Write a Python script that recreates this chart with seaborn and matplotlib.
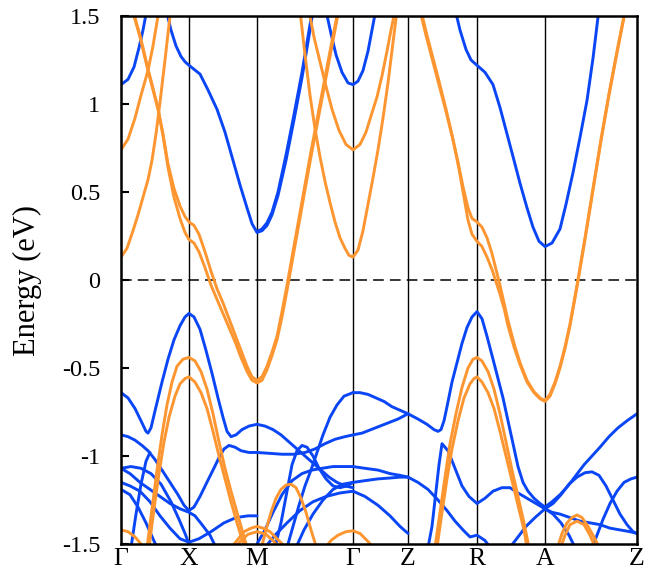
import pandas as pd
import matplotlib
matplotlib.use("Agg")
import matplotlib.pyplot as plt
import seaborn as sns

# k-path distance (arbitrary units) of the high-symmetry points
kpoints = [0, 68, 136, 232, 287, 356, 424, 516]
klabels = ["Γ", "X", "M", "Γ", "Z", "R", "A", "Z"]
yticks = [-1.5, -1, -0.5, 0, 0.5, 1, 1.5]
ylabels = ["-1.5", "-1", "-0.5", "0", "0.5", "1", "1.5"]

# ---------------- spin up (blue) : (k, E) ----------------
up_c1 = [(0, 1.11), (7, 1.14), (13, 1.21), (18, 1.32), (22, 1.42), (26, 1.54)]
up_c2 = [(45, 1.54), (50, 1.42), (55, 1.33), (60, 1.27), (64, 1.24), (68, 1.22), (79, 1.17), (87, 1.08),
         (96, 0.97), (104, 0.84), (112, 0.68), (119, 0.54), (126, 0.41), (131, 0.32), (136, 0.27),
         (141, 0.28), (146, 0.31), (151, 0.37), (157, 0.48), (165, 0.68), (173, 0.91), (181, 1.15),
         (189, 1.42), (192, 1.53)]
up_c2b = [(136, 0.275), (141, 0.29), (146, 0.325), (151, 0.385), (157, 0.50), (165, 0.71), (173, 0.94),
          (181, 1.18), (189, 1.45), (192, 1.54)]
up_c3 = [(205, 1.53), (210, 1.40), (215, 1.28), (221, 1.18), (227, 1.12), (232, 1.11), (237, 1.13),
         (242, 1.19), (247, 1.30), (251, 1.42), (255, 1.54)]
up_c4 = [(334, 1.54), (339, 1.42), (345, 1.31), (350, 1.25), (356, 1.22), (364, 1.18), (372, 1.11),
         (379, 0.98), (386, 0.83), (393, 0.68), (399, 0.55), (406, 0.41), (412, 0.30), (418, 0.22),
         (424, 0.19), (431, 0.21), (439, 0.29), (445, 0.43), (452, 0.61), (459, 0.81), (466, 1.02),
         (472, 1.26), (478, 1.54)]

up_v1 = [(0, -0.64), (7, -0.67), (14, -0.73), (20, -0.80), (25, -0.86), (27, -0.87), (30, -0.84),
         (35, -0.72), (41, -0.58), (47, -0.45), (53, -0.34), (59, -0.26), (64, -0.21), (68, -0.19),
         (73, -0.21), (79, -0.28), (85, -0.40), (91, -0.53), (97, -0.67), (102, -0.78), (106, -0.86),
         (110, -0.89), (115, -0.88), (121, -0.85), (128, -0.83), (136, -0.82), (144, -0.83),
         (152, -0.85), (160, -0.88), (168, -0.92), (176, -0.96), (184, -1.00), (192, -1.04),
         (200, -1.08), (208, -1.12), (216, -1.15), (224, -1.17), (232, -1.18)]
up_v1b = [(232, -0.64), (239, -0.64), (247, -0.65), (255, -0.67), (263, -0.69), (271, -0.72),
          (279, -0.74), (287, -0.76), (297, -0.79), (306, -0.82), (313, -0.85), (317, -0.86),
          (320, -0.85), (323, -0.80), (326, -0.72), (331, -0.58), (336, -0.47), (341, -0.36),
          (346, -0.27), (351, -0.21), (356, -0.18), (361, -0.22), (366, -0.32), (372, -0.45),
          (377, -0.56), (382, -0.67), (387, -0.80), (392, -0.93), (397, -1.06), (402, -1.15),
          (407, -1.20), (413, -1.24), (419, -1.27), (424, -1.29), (431, -1.26), (439, -1.22),
          (447, -1.17), (455, -1.11), (463, -1.05), (471, -1.00), (479, -0.95), (488, -0.89),
          (497, -0.84), (506, -0.80), (516, -0.76)]
up_v2 = [(0, -0.88), (7, -0.89), (14, -0.91), (21, -0.94), (27, -0.97), (34, -1.02), (41, -1.08),
         (49, -1.15), (57, -1.22), (63, -1.28), (68, -1.31), (73, -1.29), (79, -1.23), (85, -1.16),
         (92, -1.08), (98, -1.01), (103, -0.96), (108, -0.94), (114, -0.95), (120, -0.97),
         (128, -0.98), (136, -0.98), (149, -0.985), (161, -0.99), (173, -0.99), (184, -0.98),
         (194, -0.96), (204, -0.93), (214, -0.905), (224, -0.89), (232, -0.88), (241, -0.87),
         (250, -0.85), (259, -0.83), (268, -0.81), (277, -0.79), (287, -0.76)]
up_s1 = [(10, -1.52), (15, -1.33), (20, -1.16), (25, -1.03), (29, -0.98)]
up_s2 = [(0, -1.07), (10, -1.06), (20, -1.07), (30, -1.10), (40, -1.16), (50, -1.26), (58, -1.36),
         (64, -1.44), (68, -1.50)]
up_v12 = [(0, -1.07), (9, -1.10), (19, -1.15), (29, -1.19), (39, -1.23), (49, -1.27), (59, -1.30),
          (68, -1.32), (74, -1.34), (81, -1.39), (89, -1.45), (95, -1.52)]
up_v13 = [(0, -1.15), (9, -1.17), (19, -1.20), (29, -1.26), (39, -1.34), (49, -1.41), (59, -1.47),
          (68, -1.49), (78, -1.47), (90, -1.43), (103, -1.38), (115, -1.35), (127, -1.34), (136, -1.34)]
up_v14 = [(0, -1.19), (9, -1.22), (17, -1.29), (25, -1.38), (32, -1.47), (36, -1.52)]
up_v8 = [(136, -1.50), (144, -1.42), (152, -1.32), (161, -1.22), (171, -1.14), (181, -1.10),
         (191, -1.08), (201, -1.07), (212, -1.06), (222, -1.06), (232, -1.06)]
up_v9 = [(154, -1.52), (160, -1.38), (166, -1.20), (171, -1.05), (176, -0.97), (181, -0.94),
         (186, -0.95), (192, -1.00), (198, -1.07), (205, -1.13), (212, -1.17), (219, -1.18),
         (226, -1.17), (232, -1.15)]
up_v10 = [(144, -1.52), (154, -1.45), (166, -1.38), (179, -1.31), (192, -1.26), (205, -1.23),
          (219, -1.21), (232, -1.20)]
up_s4 = [(166, -1.52), (172, -1.40), (178, -1.28), (184, -1.17), (190, -1.08), (196, -0.98),
         (202, -0.88), (209, -0.78), (216, -0.71), (223, -0.66), (232, -0.64)]
up_s5 = [(175, -1.52), (183, -1.42), (192, -1.33), (202, -1.25), (212, -1.19), (222, -1.16), (232, -1.15)]
up_g1 = [(232, -1.06), (244, -1.07), (257, -1.08), (269, -1.10), (279, -1.11), (287, -1.12)]
up_g2 = [(232, -1.15), (244, -1.14), (257, -1.13), (269, -1.125), (279, -1.12), (287, -1.12)]
up_g3 = [(232, -1.20), (244, -1.23), (257, -1.28), (269, -1.34), (279, -1.40), (287, -1.44)]
up_v7 = [(287, -1.12), (297, -1.15), (307, -1.19), (317, -1.25), (326, -1.31), (334, -1.37),
         (342, -1.42), (349, -1.46), (356, -1.45), (364, -1.48), (369, -1.52)]
up_v3 = [(307, -1.52), (311, -1.40), (315, -1.20), (318, -1.05), (321, -0.93), (327, -0.97),
         (334, -1.07), (341, -1.17), (348, -1.23), (356, -1.27), (364, -1.24), (372, -1.20),
         (381, -1.18), (389, -1.18), (397, -1.21), (406, -1.24), (415, -1.27), (424, -1.30),
         (431, -1.32), (439, -1.33), (449, -1.35), (459, -1.37), (469, -1.38), (479, -1.39),
         (489, -1.41), (499, -1.42), (509, -1.43), (516, -1.44)]
up_v4 = [(424, -1.30), (432, -1.27), (440, -1.22), (448, -1.16), (456, -1.12), (464, -1.095),
         (471, -1.09), (478, -1.11), (485, -1.17), (492, -1.25), (499, -1.33), (506, -1.39),
         (512, -1.43), (516, -1.44)]
up_v5 = [(471, -1.52), (476, -1.45), (482, -1.36), (489, -1.27), (496, -1.20), (503, -1.15),
         (510, -1.13), (516, -1.12)]
up_v6 = [(389, -1.52), (397, -1.46), (405, -1.40), (414, -1.35), (424, -1.30), (432, -1.33),
         (440, -1.38), (448, -1.45), (454, -1.52)]

# ---------------- spin down (orange) ----------------
dn_a = [(0, 0.74), (7, 0.80), (14, 0.92), (20, 1.05), (27, 1.19), (32, 1.33), (37, 1.50), (38, 1.54)]
dn_b = [(0, 0.13), (6, 0.18), (12, 0.28), (17, 0.37), (22, 0.47), (27, 0.57), (31, 0.68), (35, 0.83),
        (39, 1.01), (44, 1.25), (49, 1.50), (50, 1.54)]
dn_c1 = [(12, 1.52), (19, 1.38), (27, 1.19), (32, 1.08), (37, 0.97), (42, 0.83), (47, 0.66), (53, 0.52),
         (59, 0.42), (64, 0.36), (68, 0.33), (73, 0.31), (78, 0.26), (84, 0.16), (90, 0.05), (96, -0.05),
         (102, -0.13), (108, -0.22), (114, -0.31), (120, -0.40), (126, -0.49), (131, -0.55), (136, -0.57),
         (141, -0.55), (146, -0.49), (151, -0.41), (156, -0.32), (161, -0.18), (166, -0.03), (171, 0.13),
         (177, 0.32), (183, 0.51), (189, 0.70), (196, 0.91), (203, 1.12), (210, 1.33), (217, 1.53)]
dn_c2 = [(12, 1.53), (19, 1.39), (27, 1.20), (32, 1.09), (37, 0.975), (42, 0.82), (47, 0.64), (53, 0.47),
         (59, 0.35), (64, 0.27), (68, 0.23), (73, 0.21), (78, 0.16), (84, 0.07), (90, -0.03), (96, -0.11),
         (102, -0.19), (108, -0.27), (114, -0.35), (120, -0.44), (126, -0.52), (131, -0.57), (136, -0.585),
         (141, -0.57), (146, -0.51), (151, -0.43), (156, -0.34), (161, -0.21), (166, -0.06), (171, 0.10),
         (177, 0.29), (183, 0.48), (189, 0.67), (196, 0.88), (203, 1.09), (210, 1.30), (217, 1.51)]
dn_g1 = [(179, 1.53), (184, 1.28), (189, 1.05), (194, 0.86), (199, 0.70), (204, 0.56), (209, 0.44),
         (214, 0.33), (219, 0.24), (224, 0.18), (228, 0.14), (232, 0.13), (237, 0.17), (242, 0.28),
         (247, 0.43), (252, 0.58), (257, 0.74), (262, 0.92), (267, 1.12), (272, 1.35), (276, 1.53)]
dn_g2 = [(188, 1.53), (193, 1.38), (199, 1.24), (205, 1.10), (211, 0.97), (218, 0.85), (225, 0.77),
         (232, 0.74), (239, 0.77), (245, 0.84), (251, 0.95), (256, 1.04), (261, 1.16), (266, 1.30),
         (270, 1.42), (274, 1.53)]
dn_r1 = [(299, 1.53), (305, 1.39), (311, 1.26), (317, 1.13), (324, 0.98), (331, 0.82), (337, 0.67),
         (342, 0.53), (347, 0.41), (351, 0.35), (356, 0.33), (361, 0.30), (366, 0.24), (371, 0.15),
         (375, 0.06), (379, -0.03), (383, -0.13), (387, -0.23), (393, -0.36), (399, -0.47), (406, -0.57),
         (413, -0.635), (419, -0.67), (424, -0.685), (429, -0.65), (434, -0.58), (439, -0.49),
         (444, -0.38), (449, -0.25), (456, -0.03), (464, 0.24), (472, 0.52), (480, 0.80), (488, 1.06),
         (496, 1.30), (504, 1.53)]
dn_r2 = [(300, 1.53), (306, 1.39), (312, 1.26), (318, 1.13), (325, 0.97), (332, 0.80), (338, 0.63),
         (343, 0.47), (347, 0.34), (351, 0.26), (356, 0.22), (361, 0.19), (366, 0.13), (371, 0.06),
         (375, -0.01), (379, -0.08), (383, -0.16), (387, -0.26), (393, -0.38), (399, -0.48), (406, -0.58),
         (413, -0.64), (419, -0.675), (424, -0.69), (429, -0.66), (434, -0.59), (439, -0.50),
         (444, -0.39), (449, -0.26), (456, -0.04), (464, 0.23), (472, 0.51), (480, 0.79), (488, 1.05),
         (496, 1.29), (504, 1.52)]
dn_x1 = [(26, -1.52), (31, -1.30), (36, -1.08), (41, -0.88), (46, -0.71), (51, -0.58), (56, -0.49),
         (62, -0.45), (68, -0.44), (74, -0.46), (80, -0.52), (86, -0.62), (92, -0.76), (98, -0.92),
         (104, -1.07), (110, -1.20), (116, -1.32), (122, -1.44), (126, -1.52)]
dn_x2 = [(28, -1.52), (33, -1.30), (38, -1.10), (43, -0.92), (48, -0.78), (54, -0.66), (59, -0.59),
         (64, -0.56), (68, -0.55), (74, -0.58), (80, -0.64), (86, -0.73), (92, -0.86), (98, -1.00),
         (104, -1.13), (110, -1.26), (116, -1.38), (122, -1.49), (125, -1.53)]
dn_rv1 = [(314, -1.52), (319, -1.32), (324, -1.12), (329, -0.93), (335, -0.76), (341, -0.61),
          (347, -0.50), (352, -0.45), (356, -0.44), (361, -0.46), (367, -0.52), (373, -0.62),
          (379, -0.76), (385, -0.92), (391, -1.08), (397, -1.23), (403, -1.38), (408, -1.52)]
dn_rv2 = [(316, -1.52), (321, -1.32), (326, -1.13), (331, -0.96), (337, -0.80), (343, -0.67),
          (349, -0.59), (353, -0.56), (356, -0.55), (361, -0.58), (367, -0.64), (373, -0.73),
          (379, -0.86), (385, -1.00), (391, -1.14), (397, -1.28), (403, -1.42), (406, -1.52)]
dn_d_g = [(0, -1.42), (7, -1.43), (14, -1.46), (20, -1.50), (24, -1.53)]
dn_d_m1 = [(109, -1.53), (116, -1.48), (123, -1.43), (130, -1.41), (136, -1.40), (142, -1.41),
           (149, -1.43), (156, -1.47), (163, -1.51), (166, -1.53)]
dn_d_m2 = [(113, -1.53), (120, -1.48), (127, -1.445), (136, -1.43), (145, -1.445), (152, -1.48), (159, -1.53)]
dn_d_mg = [(140, -1.53), (145, -1.42), (150, -1.32), (155, -1.24), (160, -1.19), (165, -1.165),
           (170, -1.16), (175, -1.18), (180, -1.24), (185, -1.32), (190, -1.42), (196, -1.53)]
dn_d_g2 = [(203, -1.53), (210, -1.48), (217, -1.45), (225, -1.43), (232, -1.425), (239, -1.44),
           (246, -1.48), (254, -1.53)]
dn_d_az1 = [(436, -1.53), (441, -1.44), (446, -1.38), (451, -1.35), (456, -1.335), (461, -1.35),
            (467, -1.40), (473, -1.46), (479, -1.53)]
dn_d_az2 = [(439, -1.53), (444, -1.45), (449, -1.39), (456, -1.37), (463, -1.39), (469, -1.45), (475, -1.53)]

bands_up = {"c1": up_c1, "c2": up_c2, "c2b": up_c2b, "c3": up_c3, "c4": up_c4,
            "v1": up_v1, "v1b": up_v1b, "v2": up_v2, "s1": up_s1, "s2": up_s2, "v12": up_v12,
            "v13": up_v13, "v14": up_v14, "v8": up_v8, "v9": up_v9, "v10": up_v10, "s4": up_s4,
            "s5": up_s5, "g1": up_g1, "g2": up_g2, "g3": up_g3, "v7": up_v7, "v3": up_v3,
            "v4": up_v4, "v5": up_v5, "v6": up_v6}
bands_dn = {"a": dn_a, "b": dn_b, "c1": dn_c1, "c2": dn_c2, "g1": dn_g1, "g2": dn_g2,
            "r1": dn_r1, "r2": dn_r2, "x1": dn_x1, "x2": dn_x2, "rv1": dn_rv1, "rv2": dn_rv2,
            "dg": dn_d_g, "dm1": dn_d_m1, "dm2": dn_d_m2, "dmg": dn_d_mg, "dg2": dn_d_g2,
            "daz1": dn_d_az1, "daz2": dn_d_az2}


def to_frame(bands, spin):
    rows = []
    for name, pts in bands.items():
        for i, (k, e) in enumerate(pts):
            rows.append({"k": k, "E": e, "band": spin + "_" + name, "order": i})
    return pd.DataFrame(rows)


df_up = to_frame(bands_up, "up")
df_dn = to_frame(bands_dn, "dn")

sns.set_theme(style="white")
plt.rcParams["font.family"] = ["Liberation Serif", "DejaVu Serif"]

fig = plt.figure(figsize=(6.57, 5.77), dpi=100)
ax = fig.add_axes([121 / 657, 33 / 577, 516 / 657, 528 / 577])

for k in kpoints[1:-1]:
    ax.axvline(k, color="black", lw=1.0, zorder=1)
ax.axhline(0, color="black", lw=1.1, ls=(0, (7, 4)), zorder=1)

sns.lineplot(data=df_up, x="k", y="E", units="band", estimator=None, sort=False,
             color="#0a46f5", linewidth=2.1, ax=ax, zorder=2)
sns.lineplot(data=df_dn, x="k", y="E", units="band", estimator=None, sort=False,
             color="#fd9631", linewidth=2.1, ax=ax, zorder=3)

ax.set_xlim(kpoints[0], kpoints[-1])
ax.set_ylim(-1.5, 1.5)
ax.set_xticks(kpoints)
ax.set_xticklabels(klabels, fontsize=18.5)
ax.set_yticks(yticks)
ax.set_yticklabels(ylabels, fontsize=17.5)
ax.tick_params(axis="y", direction="in", length=6, width=1.5, pad=15, colors="black", left=True)
ax.tick_params(axis="x", length=0, pad=3, colors="black")
ax.set_xlabel("")
ax.set_ylabel("Energy (eV)", fontsize=22, labelpad=14, color="black")
for sp in ax.spines.values():
    sp.set_color("black")
    sp.set_linewidth(1.8)
    sp.set_zorder(5)

plt.savefig("out.png", dpi=100)
plt.close()
